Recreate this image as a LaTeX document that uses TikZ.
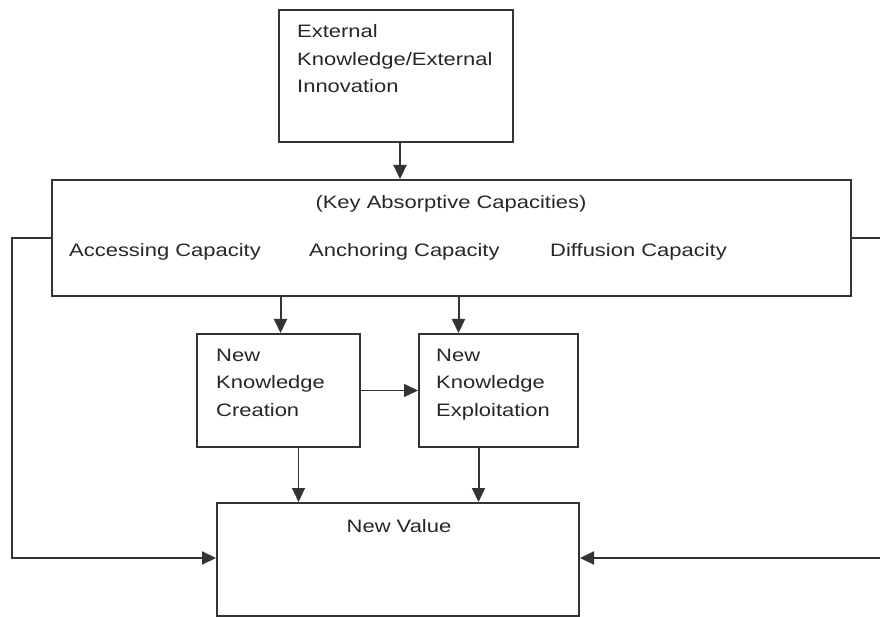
\documentclass[tikz,border=0pt]{standalone}
\usepackage{fontspec}
\setmainfont{Liberation Sans}[FakeStretch=1.22]
\usetikzlibrary{arrows.meta}
\tikzset{
  box/.style={draw=black!80, line width=2pt, inner sep=0pt},
  txt/.style={anchor=base west, inner sep=0pt, align=left, text=black!85,
    font=\fontsize{18}{27.5}\selectfont},
  link/.style={draw=black!80, line width=2pt, -{Triangle[length=14pt,width=13pt]}},
  thinlink/.style={link, line width=1.2pt}
}

\begin{document}
\begin{tikzpicture}[x=1pt,y=-1pt]
    \useasboundingbox (0,0) rectangle (880,617);
    % boxes
    \node[box, minimum width=234pt, minimum height=132pt] (ext) at (396,76) {};
    \node[box, minimum width=799pt, minimum height=116pt] (key) at (451.5,238) {};
    \node[box, minimum width=163pt, minimum height=113pt] (nkc) at (278.5,390.5) {};
    \node[box, minimum width=159pt, minimum height=113pt] (nke) at (498.5,390.5) {};
    \node[box, minimum width=362pt, minimum height=113pt] (nv) at (398,559.5) {};
    \coordinate (lturn) at (12,0);
    \coordinate (rturn) at (900,0);
    % texts (base = last line)
    \node[txt] (exttxt) at (297,93) {External\\Knowledge/External\\Innovation};
    \node[txt, anchor=base] (keytxt) at (451,209) {(Key Absorptive Capacities)};
    \node[txt] (acc) at (69,257) {Accessing Capacity};
    \node[txt] (anc) at (309,257) {Anchoring Capacity};
    \node[txt] (dif) at (550,257) {Diffusion Capacity};
    \node[txt] (nkctxt) at (216,416) {New\\Knowledge\\Creation};
    \node[txt] (nketxt) at (436,416) {New\\Knowledge\\Exploitation};
    \node[txt, anchor=base] (nvtxt) at (399,532) {New Value};
    % connectors
    \draw[link] ([xshift=4pt]ext.south) -- ([xshift=4pt]ext.south |- key.north);
    \draw[link] ([xshift=2pt]nkc.north |- key.south) -- ([xshift=2pt]nkc.north);
    \draw[link] ([xshift=-40pt]nke.north |- key.south) -- ([xshift=-40pt]nke.north);
    \draw[thinlink] (nkc.east) -- (nke.west);
    \draw[thinlink] ([xshift=20pt]nkc.south) -- ([xshift=20pt]nkc.south |- nv.north);
    \draw[link] ([xshift=-20pt]nke.south) -- ([xshift=-20pt]nke.south |- nv.north);
    \draw[link] (key.west) -- (key.west -| lturn) |- ([yshift=1.5pt]nv.west);
    \draw[link] (key.east) -- (key.east -| rturn) |- ([yshift=1.5pt]nv.east);
\end{tikzpicture}
\end{document}
